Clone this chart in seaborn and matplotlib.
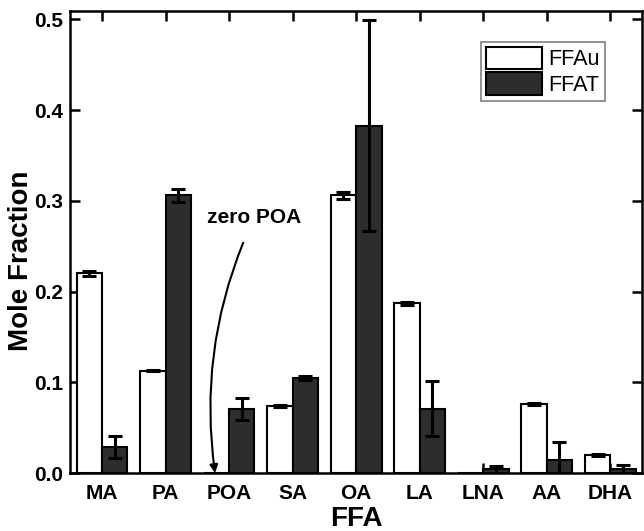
import matplotlib
matplotlib.use("Agg")
import matplotlib.pyplot as plt
import seaborn as sns
import pandas as pd

# datos
acidos = ['MA', 'PA', 'POA', 'SA', 'OA', 'LA', 'LNA', 'AA', 'DHA']
ffau = [0.220, 0.113, 0.0, 0.074, 0.306, 0.187, 0.0, 0.076, 0.020]
ffau_err = [0.003, 0.001, 0.0, 0.001, 0.0035, 0.002, 0.0, 0.001, 0.001]
ffat = [0.029, 0.306, 0.071, 0.105, 0.383, 0.071, 0.004, 0.014, 0.004]
ffat_err = [0.012, 0.007, 0.012, 0.002, 0.116, 0.030, 0.004, 0.020, 0.005]

df = pd.DataFrame({
    'FFA': acidos * 2,
    'tipo': ['FFAu'] * len(acidos) + ['FFAT'] * len(acidos),
    'valor': ffau + ffat,
})

sns.set_style('ticks')
plt.rcParams['font.family'] = ['Liberation Sans', 'DejaVu Sans']
plt.rcParams['text.color'] = 'black'
plt.rcParams['axes.labelcolor'] = 'black'
plt.rcParams['xtick.color'] = 'black'
plt.rcParams['ytick.color'] = 'black'

fig, ax = plt.subplots(figsize=(6.44, 5.31), dpi=100)
fig.subplots_adjust(left=0.109, right=0.997, top=0.979, bottom=0.109)

sns.barplot(data=df, x='FFA', y='valor', hue='tipo', ax=ax,
            palette={'FFAu': 'white', 'FFAT': '#2d2d2d'},
            edgecolor='black', linewidth=1.5, errorbar=None, width=0.8)

# barras de error
for cont, errs in zip(ax.containers, [ffau_err, ffat_err]):
    xs = [p.get_x() + p.get_width() / 2 for p in cont.patches]
    ys = [p.get_height() for p in cont.patches]
    xe, ye, ee = [], [], []
    for x, y, e in zip(xs, ys, errs):
        if e > 0:
            xe.append(x); ye.append(y); ee.append(e)
    ax.errorbar(xe, ye, yerr=ee, fmt='none', ecolor='black',
                elinewidth=2.2, capsize=5, capthick=2.2, zorder=5)

ax.set_xlim(-0.5, 8.5)
ax.set_ylim(0, 0.509)
ax.set_yticks([0.0, 0.1, 0.2, 0.3, 0.4, 0.5])
ax.set_yticklabels(['0.0', '0.1', '0.2', '0.3', '0.4', '0.5'])

for s in ax.spines.values():
    s.set_visible(True)
    s.set_linewidth(1.8)
    s.set_color('black')
ax.tick_params(direction='in', length=7, width=1.8, top=True, right=True,
               labelsize=15, pad=5)
ax.tick_params(axis='x', pad=8)
for lbl in ax.get_xticklabels() + ax.get_yticklabels():
    lbl.set_fontweight('bold')

ax.set_xlabel('FFA', fontsize=20, fontweight='bold', labelpad=2)
ax.set_ylabel('Mole Fraction', fontsize=20, fontweight='bold')
ax.yaxis.set_label_coords(-0.064, 0.46)

ax.annotate('zero POA', xy=(1.78, 0.0), xytext=(2.4, 0.282),
            fontsize=15, fontweight='bold', ha='center', va='center',
            arrowprops=dict(arrowstyle='-|>', color='black', lw=1.5,
                            mutation_scale=12, shrinkA=10, shrinkB=0,
                            connectionstyle='arc3,rad=0.15'))

leg = ax.legend(loc='upper right', bbox_to_anchor=(0.936, 0.934),
                fontsize=15.5, frameon=True, fancybox=False,
                handlelength=2.6, handleheight=1.2, labelspacing=0.1,
                borderpad=0.25, handletextpad=0.3, borderaxespad=0)
leg.get_frame().set_edgecolor('#808080')
leg.get_frame().set_linewidth(1.2)
leg.get_frame().set_alpha(1)

fig.savefig('out.png', dpi=100)
